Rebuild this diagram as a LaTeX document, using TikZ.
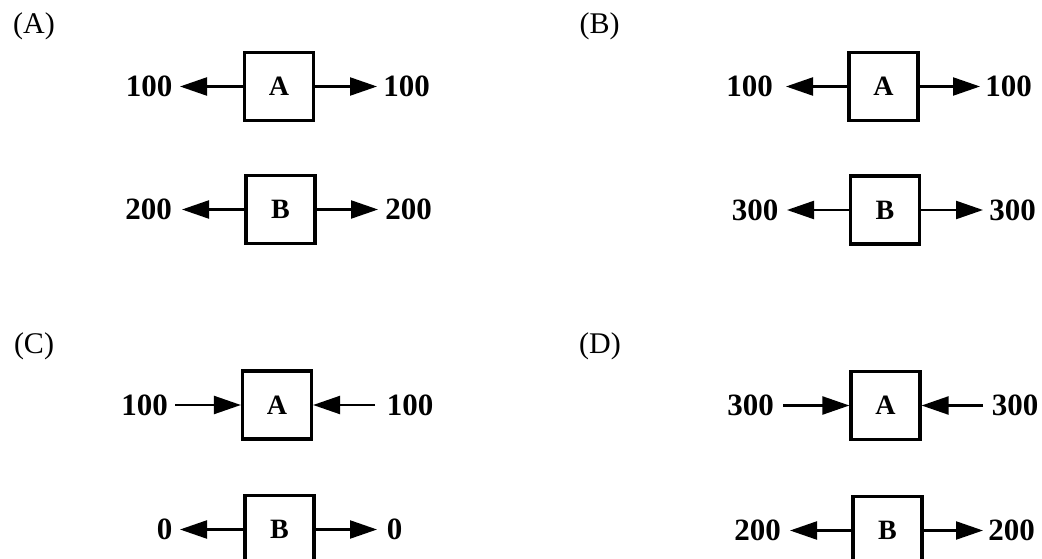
\documentclass[tikz,border=0pt]{standalone}
\usepackage{fontspec}
\setmainfont{Liberation Serif}
\usetikzlibrary{arrows.meta}
\begin{document}
\begin{tikzpicture}[x=1pt,y=-1pt,
  blk/.style={draw, line width=3.2pt, minimum width=69pt, minimum height=68pt, inner sep=0pt,
    font=\fontsize{28}{28}\selectfont\bfseries},
  num/.style={inner sep=0pt, font=\fontsize{31}{31}\selectfont\bfseries},
  lab/.style={inner sep=0pt, font=\fontsize{30}{30}\selectfont},
  arr/.style={line width=2.3pt, -{Triangle[length=27pt,width=18pt]}}]
\useasboundingbox (0,0) rectangle (1042,559);
\clip (0,0) rectangle (1042,559);
\fill[white] (0,0) rectangle (1042,559);
% panel labels
\node[lab] (pa) at (34,26) {(A)};
\node[lab] (pb) at (599.5,26.5) {(B)};
\node[lab] (pc) at (34,346) {(C)};
\node[lab] (pd) at (600,346) {(D)};
% ---------- Panel A ----------
\node[blk] (A1) at (279,86.5) {A};
\node[blk] (B1) at (280.5,209.5) {B};
\node[num] (A1l) at (149,86.5) {100};
\node[num] (A1r) at (406.5,86.5) {100};
\node[num] (B1l) at (148.5,209.5) {200};
\node[num] (B1r) at (408.5,209.5) {200};
\coordinate (a1lt) at (180,86.5);
\coordinate (a1rt) at (377,86.5);
\coordinate (b1lt) at (182,209.5);
\coordinate (b1rt) at (378,209.5);
\draw[arr] (A1.west) -- (a1lt);
\draw[arr] (A1.east) -- (a1rt);
\draw[arr] (B1.west) -- (b1lt);
\draw[arr] (B1.east) -- (b1rt);
% ---------- Panel B ----------
\node[blk] (A2) at (883.5,86.5) {A};
\node[blk] (B2) at (885,210) {B};
\node[num] (A2l) at (749.5,86.5) {100};
\node[num] (A2r) at (1008.5,86.5) {100};
\node[num] (B2l) at (755,210) {300};
\node[num] (B2r) at (1012.5,210) {300};
\coordinate (a2lt) at (786,86.5);
\coordinate (a2rt) at (980,86.5);
\coordinate (b2lt) at (787,210);
\coordinate (b2rt) at (983,210);
\draw[arr] (A2.west) -- (a2lt);
\draw[arr] (A2.east) -- (a2rt);
\draw[arr] (B2.west) -- (b2lt);
\draw[arr] (B2.east) -- (b2rt);
% ---------- Panel C ----------
\node[blk] (A3) at (277,405) {A};
\node[blk] (B3) at (279.5,529.5) {B};
\node[num] (A3l) at (144.5,405) {100};
\node[num] (A3r) at (410,405) {100};
\node[num] (B3l) at (164.5,529.5) {0};
\node[num] (B3r) at (394.5,529.5) {0};
\coordinate (a3ls) at (175,405);
\coordinate (a3rs) at (375,405);
\coordinate (b3lt) at (180,529.5);
\coordinate (b3rt) at (377,529.5);
\draw[arr] (a3ls) -- (A3.west);
\draw[arr] (a3rs) -- (A3.east);
\draw[arr] (B3.west) -- (b3lt);
\draw[arr] (B3.east) -- (b3rt);
% ---------- Panel D ----------
\node[blk] (A4) at (885.5,405.5) {A};
\node[blk] (B4) at (887.5,530.5) {B};
\node[num] (A4l) at (750.5,405.5) {300};
\node[num] (A4r) at (1015,405.5) {300};
\node[num] (B4l) at (757.5,530.5) {200};
\node[num] (B4r) at (1011.5,530.5) {200};
\coordinate (a4ls) at (783,405.5);
\coordinate (a4rs) at (983,405.5);
\coordinate (b4lt) at (790,530.5);
\coordinate (b4rt) at (983,530.5);
\draw[arr] (a4ls) -- (A4.west);
\draw[arr] (a4rs) -- (A4.east);
\draw[arr] (B4.west) -- (b4lt);
\draw[arr] (B4.east) -- (b4rt);
\end{tikzpicture}
\end{document}
